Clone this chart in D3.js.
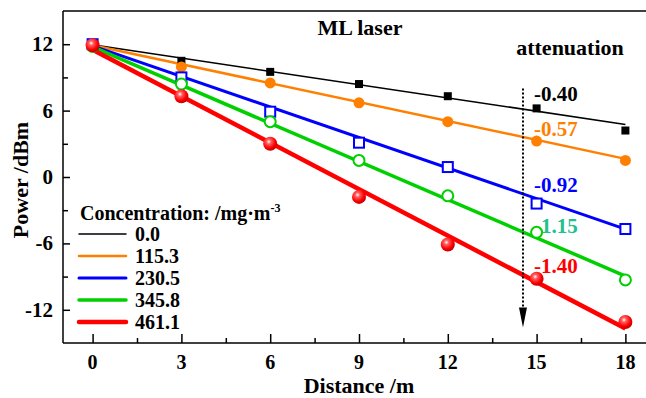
<!DOCTYPE html>
<html><head><meta charset="utf-8">
<script src="https://cdn.jsdelivr.net/npm/d3@7"></script>
<style>body{margin:0;background:#fff}svg{display:block}svg text{font-family:"Liberation Serif","Times New Roman",serif;font-weight:bold}</style>
</head><body><svg id="c" width="646" height="398"></svg>
<script>
const distances = [0, 3, 6, 9, 12, 15, 18];
const concentrations = ["0.0", "115.3", "230.5", "345.8", "461.1"];
const power0 = [12.0, 10.5, 9.5, 8.4, 7.3, 6.2, 4.2];
const power1 = [12.0, 9.95, 8.5, 6.7, 5.0, 3.25, 1.5];
const power2 = [12.0, 9.0, 5.9, 3.1, 0.9, -2.4, -4.7];
const power3 = [11.8, 8.4, 5.0, 1.5, -1.7, -5.0, -9.3];
const power4 = [11.9, 7.3, 3.0, -1.8, -6.1, -9.2, -13.1];
const fitIntercepts = [11.95, 11.9, 11.85, 11.75, 11.5];
const fitSlopes = [-0.40, -0.57, -0.92, -1.15, -1.40];
const slopeLabels = ["-0.40", "-0.57", "-0.92", "-1.15", "-1.40"];
const xTicks = [0, 3, 6, 9, 12, 15, 18];
const yTicks = [-12, -6, 0, 6, 12];

const series = [power0, power1, power2, power3, power4];
const colors = ["#000000", "#ff8000", "#0000ff", "#00d000", "#ff0000"];
const labelColors = ["#000000", "#ff8000", "#0000ff", "#20c090", "#ff0000"];
const widths = [1.5, 2.5, 3, 3.5, 4.5];
const labelY = [101, 136, 192, 233, 273];

const svg = d3.select("#c");
const x = d3.scaleLinear().domain([-1, 19]).range([63, 655]);
const y = d3.scaleLinear().domain([-15, 15]).range([343, 11]);

const defs = svg.append("defs");
const g = defs.append("radialGradient").attr("id", "sph").attr("cx", "40%").attr("cy", "35%").attr("r", "65%");
g.append("stop").attr("offset", "0%").attr("stop-color", "#ffffff");
g.append("stop").attr("offset", "25%").attr("stop-color", "#ff6060");
g.append("stop").attr("offset", "70%").attr("stop-color", "#ff0000");
g.append("stop").attr("offset", "100%").attr("stop-color", "#c00000");

svg.append("line").attr("x1", 63).attr("x2", 646).attr("y1", 11).attr("y2", 11).attr("stroke", "#000").attr("stroke-width", 1.5);

const xAxis = svg.append("g").attr("transform", `translate(0,${y(-15)})`)
  .call(d3.axisTop(x).tickValues(xTicks).tickSize(9).tickFormat(""));
xAxis.select(".domain").attr("d", `M63,0H655`).attr("stroke-width", 1.5);
xAxis.selectAll(".tick line").attr("stroke-width", 1.5);
svg.append("g").attr("transform", `translate(0,${y(-15)})`)
  .call(d3.axisTop(x).tickValues(d3.range(1.5, 19, 3)).tickSize(5).tickFormat(""))
  .call(a => a.select(".domain").remove()).selectAll("line").attr("stroke-width", 1.5);
svg.selectAll(".xl").data(xTicks).enter().append("text")
  .attr("x", d => x(d)).attr("y", 369).attr("text-anchor", "middle").attr("font-size", 20).text(d => d);

const yAxis = svg.append("g").attr("transform", `translate(${x(-1)},0)`)
  .call(d3.axisRight(y).tickValues(yTicks).tickSize(7).tickFormat(""));
yAxis.select(".domain").attr("d", "M0,11V343").attr("stroke-width", 1.5);
yAxis.selectAll(".tick line").attr("stroke-width", 1.5);
svg.append("g").attr("transform", `translate(${x(-1)},0)`)
  .call(d3.axisRight(y).tickValues([-9, -3, 3, 9]).tickSize(5).tickFormat(""))
  .call(a => a.select(".domain").remove()).selectAll("line").attr("stroke-width", 1.5);
svg.selectAll(".yl").data(yTicks).enter().append("text")
  .attr("x", 53).attr("y", d => y(d) + 7).attr("text-anchor", "end").attr("font-size", 21).text(d => d);

svg.append("text").attr("x", 359).attr("y", 393).attr("text-anchor", "middle").attr("font-size", 22).text("Distance /m");
svg.append("text").attr("transform", "translate(28,180) rotate(-90)").attr("text-anchor", "middle").attr("font-size", 22).text("Power /dBm");

svg.append("text").attr("x", 360).attr("y", 35).attr("text-anchor", "middle").attr("font-size", 22).text("ML laser");
svg.append("text").attr("x", 570).attr("y", 55).attr("text-anchor", "middle").attr("font-size", 22).text("attenuation");

slopeLabels.forEach((s, i) => {
  svg.append("text").attr("x", 534).attr("y", labelY[i]).attr("font-size", 21)
    .attr("fill", labelColors[i]).text(s);
});

series.forEach((s, i) => {
  svg.append("line")
    .attr("x1", x(0)).attr("y1", y(fitIntercepts[i]))
    .attr("x2", x(18)).attr("y2", y(fitIntercepts[i] + fitSlopes[i] * 18))
    .attr("stroke", colors[i]).attr("stroke-width", widths[i]);
});

const ax = x(14.54);
svg.append("line").attr("x1", ax).attr("x2", ax).attr("y1", y(8.0)).attr("y2", y(-12.0))
  .attr("stroke", "#000").attr("stroke-width", 2).attr("stroke-dasharray", "2,2");
svg.append("path").attr("d", `M${ax - 4},${y(-11.8)}L${ax + 4},${y(-11.8)}L${ax},${y(-13.6)}Z`).attr("fill", "#000");

const pts = (s) => s.map((v, j) => [distances[j], v]);
svg.selectAll(".m0").data(pts(power0)).enter().append("rect")
  .attr("x", d => x(d[0]) - 4).attr("y", d => y(d[1]) - 4).attr("width", 8).attr("height", 8).attr("fill", "#000");
svg.selectAll(".m1").data(pts(power1)).enter().append("circle")
  .attr("cx", d => x(d[0])).attr("cy", d => y(d[1])).attr("r", 5.5).attr("fill", colors[1]);
svg.selectAll(".m2").data(pts(power2)).enter().append("rect")
  .attr("x", d => x(d[0]) - 5).attr("y", d => y(d[1]) - 5).attr("width", 10).attr("height", 10)
  .attr("fill", "#fff").attr("stroke", colors[2]).attr("stroke-width", 2);
svg.selectAll(".m3").data(pts(power3)).enter().append("circle")
  .attr("cx", d => x(d[0])).attr("cy", d => y(d[1])).attr("r", 5.5)
  .attr("fill", "#fff").attr("stroke", colors[3]).attr("stroke-width", 2);
svg.selectAll(".m4").data(pts(power4)).enter().append("circle")
  .attr("cx", d => x(d[0])).attr("cy", d => y(d[1])).attr("r", 7).attr("fill", "url(#sph)");

svg.append("text").attr("x", 80).attr("y", 220).attr("font-size", 20).text("Concentration: /mg·m")
  .append("tspan").attr("dy", -8).attr("font-size", 12).text("-3");
const legY = [234, 256, 278, 300, 322];
concentrations.forEach((c, i) => {
  svg.append("line").attr("x1", 79).attr("x2", 126).attr("y1", legY[i]).attr("y2", legY[i])
    .attr("stroke", colors[i]).attr("stroke-width", widths[i]).attr("stroke-linecap", "round");
  svg.append("text").attr("x", 135).attr("y", legY[i] + 7).attr("font-size", 20).text(c);
});
</script></body></html>
